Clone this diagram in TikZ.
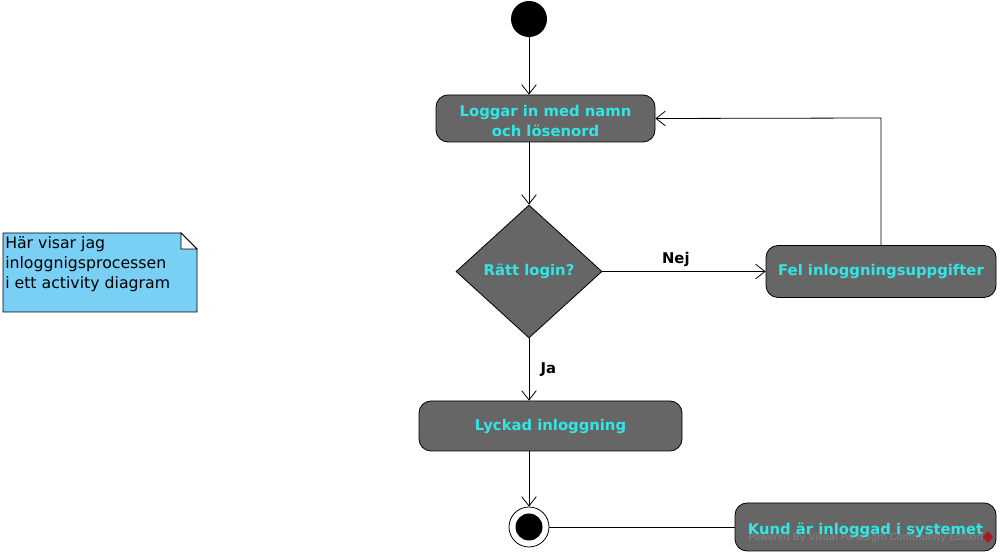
\documentclass[tikz,border=0pt]{standalone}
\usepackage{fontspec}
\setmainfont{DejaVu Sans}
\usetikzlibrary{arrows.meta,shapes.geometric}
\definecolor{actfill}{HTML}{666666}
\definecolor{acttext}{HTML}{33E6E6}
\definecolor{notefill}{HTML}{7ACFF5}
\tikzset{
  activity/.style={draw=black, fill=actfill, rounded corners=12*0.75pt, line width=0.6pt,
    font=\bfseries\fontsize{11.1}{15}\selectfont, text=acttext, align=center, inner sep=0pt},
  decision/.style={draw=black, fill=actfill, diamond, line width=0.6pt,
    font=\bfseries\fontsize{11.1}{14}\selectfont, text=acttext, inner sep=0pt},
  flow/.style={draw=black, line width=0.6pt, -{Straight Barb[length=7pt,width=11pt]}},
  plainflow/.style={draw=black, line width=0.6pt},
  guard/.style={font=\bfseries\fontsize{11.1}{14}\selectfont, text=black},
}
\begin{document}
\begin{tikzpicture}[x=0.75pt,y=-0.75pt]
\useasboundingbox (0,0) rectangle (1000,555);
% initial
\node[circle, fill=black, minimum size=36*0.75pt, inner sep=0pt] (init) at (529,19) {};
% activities
\node[activity, minimum width=219*0.75pt, minimum height=47*0.75pt] (login) at (545.5,118.5) {};
\node[font=\bfseries\fontsize{11.1}{15}\selectfont, text=acttext, align=center] at (545.5,121) {Loggar in med namn\\och lösenord};
\node[decision, minimum width=146*0.75pt, minimum height=133*0.75pt] (dec) at (529,271.5) {Rätt login?};
\node[activity, minimum width=230*0.75pt, minimum height=52*0.75pt] (fel) at (881,271.5) {Fel inloggningsuppgifter};
\node[activity, minimum width=263*0.75pt, minimum height=50*0.75pt] (ok) at (550.5,426) {Lyckad inloggning};
% final
\node[circle, draw=black, fill=white, line width=0.6pt, minimum size=40*0.75pt, inner sep=0pt] (final) at (529,527) {};
\node[circle, fill=black, minimum size=27*0.75pt, inner sep=0pt] at (final) {};
\node[activity, minimum width=261*0.75pt, minimum height=48*0.75pt, text=actfill] (kund) at (865.5,527) {Kund är inloggad i systemet};
% watermark (behind the activity text)
\node[text=black!48, font=\fontsize{7.3}{9}\selectfont, anchor=west] (wm) at (744,538) {Powered By Visual Paradigm Community Edition};
\fill[red!75!black, opacity=0.75] (988,531) -- (993,537) -- (988,543) -- (983,537) -- cycle;
\node[font=\bfseries\fontsize{11.1}{14}\selectfont, text=acttext] at (865.5,530) {Kund är inloggad i systemet};
% note
\coordinate (n1) at (3,233);
\coordinate (n2) at (181,233);
\coordinate (n3) at (197,249);
\coordinate (n4) at (197,312);
\coordinate (n5) at (3,312);
\draw[fill=notefill, line width=0.6pt] (n1) -- (n2) -- (n3) -- (n4) -- (n5) -- cycle;
\draw[fill=white, line width=0.6pt] (n2) -- (181,249) -- (n3) -- cycle;
\node[anchor=north west, align=left, inner sep=0pt, font=\fontsize{11.8}{15}\selectfont] (note) at (5,236) {Här visar jag\\inloggnigsprocessen\\i ett activity diagram};
% flows
\draw[flow] (init) -- (login.north -| init);
\draw[flow] (login.south -| init) -- (dec.north);
\draw[flow] (dec.east) -- node[guard, above=0pt, pos=0.45] {Nej} (fel.west);
\coordinate (corner) at (881,118);
\draw[flow] (fel.north) -- (corner) -- (login.east);
\draw[flow] (dec.south) -- node[guard, right=5pt, pos=0.5] {Ja} (ok.north -| dec.south);
\draw[flow] (ok.south -| final) -- (final.north);
\draw[plainflow] (final.east) -- (kund.west);
\end{tikzpicture}
\end{document}
